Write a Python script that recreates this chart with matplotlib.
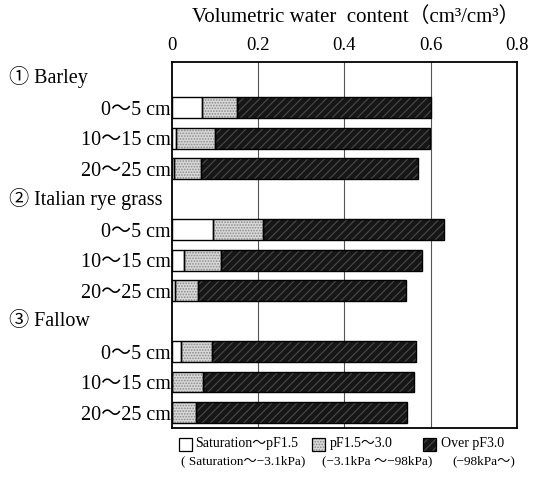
import matplotlib.pyplot as plt
from matplotlib.patches import Rectangle

groups = ['① Barley', '② Italian rye grass', '③ Fallow']
depths = ['0～5 cm', '10～15 cm', '20～25 cm']

# segment widths (cm3/cm3), per group x depth
sat_pf15 = [0.069, 0.009, 0.005, 0.095, 0.029, 0.008, 0.022, 0.001, 0.001]
pf15_30 = [0.082, 0.091, 0.063, 0.117, 0.085, 0.052, 0.070, 0.071, 0.056]
over_pf30 = [0.449, 0.498, 0.503, 0.419, 0.465, 0.482, 0.473, 0.490, 0.488]

legend_line1 = ['Saturation～pF1.5', 'pF1.5～3.0', 'Over pF3.0']
legend_line2 = ['( Saturation～−3.1kPa)', '(−3.1kPa ～−98kPa)', '(−98kPa～)']

xticks = [0, 0.2, 0.4, 0.6, 0.8]
xticklabels = ['0', '0.2', '0.4', '0.6', '0.8']

fam = ['Liberation Serif', 'Noto Sans CJK JP']
plt.rcParams['font.family'] = fam
plt.rcParams['hatch.linewidth'] = 0.8

fig = plt.figure(figsize=(5.37, 4.78), dpi=100)
ax = fig.add_axes([0.320, 0.105, 0.643, 0.765])

# rows: group label row, then 3 depth rows per group
rows = []
for g in range(len(groups)):
    for d in range(len(depths)):
        rows.append(g * 4 + 1 + d)

styles = [
    dict(color='white', hatch=None, hcol='white'),
    dict(color='#d8d8d8', hatch='......', hcol='#8a8a8a'),
    dict(color='#161616', hatch='////', hcol='#4a4a4a'),
]
h = 0.68
left = [0.0] * len(rows)
for vals, st in zip([sat_pf15, pf15_30, over_pf30], styles):
    ax.barh(rows, vals, height=h, left=left, color=st['color'],
            hatch=st['hatch'], edgecolor=st['hcol'], linewidth=0, zorder=2)
    ax.barh(rows, vals, height=h, left=left, fill=False,
            edgecolor='black', linewidth=1.0, zorder=3)
    left = [a + b for a, b in zip(left, vals)]

ax.set_xlim(0, 0.8)
ax.set_ylim(11.5, -0.5)
for x in xticks[1:-1]:
    ax.axvline(x, color='#555555', linewidth=0.8, zorder=1)

ax.xaxis.tick_top()
ax.set_xticks(xticks)
ax.set_xticklabels(xticklabels, fontsize=13.5)
ax.tick_params(axis='x', length=0, pad=6)
ax.set_yticks(rows)
ax.set_yticklabels(depths * len(groups), fontsize=14.5)
ax.tick_params(axis='y', length=0, pad=1)
for s in ax.spines.values():
    s.set_linewidth(1.3)

tr = ax.get_yaxis_transform()
for g, name in enumerate(groups):
    ax.text(-0.472, g * 4, name, transform=tr, ha='left', va='center',
            fontsize=14.5)

fig.text(0.663, 0.965, 'Volumetric water  content（cm³/cm³）',
         ha='center', va='center', fontsize=15)

# legend
box_x = [179, 312, 423]
txt_x = [195, 330, 441]
line2_x = [181, 322, 452]
y1 = 1 - 444 / 478
y2 = 1 - 461 / 478
for i in range(3):
    st = styles[i]
    fig.patches.append(Rectangle((box_x[i] / 537, y1 - 6.5 / 478), 13 / 537, 13 / 478,
                                 transform=fig.transFigure, facecolor=st['color'],
                                 hatch=st['hatch'], edgecolor=st['hcol'], linewidth=0))
    fig.patches.append(Rectangle((box_x[i] / 537, y1 - 6.5 / 478), 13 / 537, 13 / 478,
                                 transform=fig.transFigure, fill=False,
                                 edgecolor='black', linewidth=0.9))
    fig.text(txt_x[i] / 537, y1, legend_line1[i], ha='left', va='center', fontsize=10)
    fig.text(line2_x[i] / 537, y2, legend_line2[i], ha='left', va='center', fontsize=9.5)

fig.savefig('out.png', dpi=100)
